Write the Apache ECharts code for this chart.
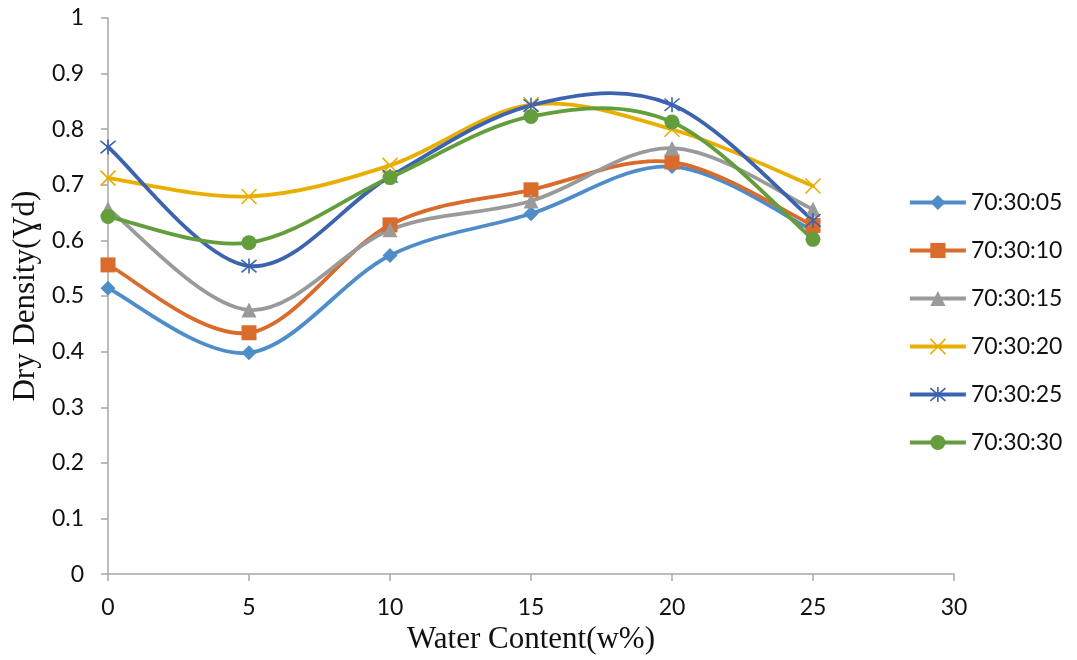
<!DOCTYPE html>
<html>
<head>
<meta charset="utf-8">
<script src="https://cdn.jsdelivr.net/npm/echarts@6/dist/echarts.min.js"></script>
<style>
  html, body { margin: 0; padding: 0; background: #fff; }
  #chart { width: 1077px; height: 660px; }
</style>
</head>
<body>
<div id="chart"></div>
<script>
// Water content (w%) at which dry density was measured
const waterContent = [0, 5, 10, 15, 20, 25];

// Mix ratios (legend names)
const mixNames = ['70:30:05', '70:30:10', '70:30:15', '70:30:20', '70:30:25', '70:30:30'];

// Dry density for each mix
const mix05 = [0.514, 0.398, 0.573, 0.648, 0.733, 0.618];
const mix10 = [0.556, 0.434, 0.628, 0.691, 0.741, 0.627];
const mix15 = [0.657, 0.475, 0.619, 0.671, 0.766, 0.656];
const mix20 = [0.712, 0.679, 0.735, 0.844, 0.800, 0.698];
const mix25 = [0.768, 0.554, 0.715, 0.843, 0.844, 0.636];
const mix30 = [0.643, 0.596, 0.713, 0.823, 0.813, 0.602];

const seriesValues = [mix05, mix10, mix15, mix20, mix25, mix30];

const colors = ['#4E8DC9', '#D96B2B', '#9A9A9A', '#E9AF00', '#3C63B0', '#639D3C'];
const symbols = [
  'diamond',
  'rect',
  'triangle',
  'path://M0,0L10,10M10,0L0,10',
  'path://M0,0L10,10M10,0L0,10M5,-1L5,11',
  'circle'
];
const symbolSizes = [15, 15, 15, 15, 15, 15];
const strokeOnly = [false, false, false, true, true, false];
const LINE_WIDTH = 3.8;

const chart = echarts.init(document.getElementById('chart'), null, { renderer: 'canvas' });

// Smooth curve through the points (cardinal spline as cubic Bezier segments),
// drawn in pixel space from the axis scales.
function smoothPath(api, values) {
  const pts = waterContent.map((w, j) => api.coord([w, values[j]]));
  const n = pts.length;
  const t = 1 / 6;
  let d = 'M' + pts[0][0] + ',' + pts[0][1];
  for (let i = 0; i < n - 1; i++) {
    const p0 = pts[Math.max(i - 1, 0)];
    const p1 = pts[i];
    const p2 = pts[i + 1];
    const p3 = pts[Math.min(i + 2, n - 1)];
    const c1 = [p1[0] + (p2[0] - p0[0]) * t, p1[1] + (p2[1] - p0[1]) * t];
    const c2 = [p2[0] - (p3[0] - p1[0]) * t, p2[1] - (p3[1] - p1[1]) * t];
    d += 'C' + c1[0] + ',' + c1[1] + ' ' + c2[0] + ',' + c2[1] + ' ' + p2[0] + ',' + p2[1];
  }
  return d;
}

// Curves (unnamed, so the legend takes its icons from the marker series)
const curveSeries = mixNames.map((name, i) => ({
  type: 'custom',
  silent: true,
  z: 2 + i,
  data: [[waterContent[0], seriesValues[i][0]]],
  renderItem: (params, api) => ({
    type: 'path',
    shape: { pathData: smoothPath(api, seriesValues[i]) },
    style: { fill: null, stroke: colors[i], lineWidth: LINE_WIDTH, lineJoin: 'round', lineCap: 'round' }
  })
}));

// Markers at the measured points
const markerSeries = mixNames.map((name, i) => ({
  name: name,
  type: 'line',
  data: waterContent.map((w, j) => [w, seriesValues[i][j]]),
  symbol: symbols[i],
  symbolSize: symbolSizes[i],
  showAllSymbol: true,
  lineStyle: { color: colors[i], width: LINE_WIDTH, opacity: 0 },
  itemStyle: strokeOnly[i]
    ? { color: 'rgba(0,0,0,0)', borderColor: colors[i], borderWidth: 1.6 }
    : { color: colors[i], borderColor: colors[i], borderWidth: 0 },
  emphasis: { disabled: true },
  z: 20 + i
}));

chart.setOption({
  animation: false,
  backgroundColor: '#ffffff',
  color: colors,
  grid: { left: 108, right: 123, top: 18, bottom: 84, containLabel: false },
  legend: {
    orient: 'vertical',
    left: 903,
    top: 186,
    itemWidth: 56,
    itemHeight: 19,
    itemGap: 25,
    textStyle: { fontFamily: 'Lato, "Open Sans", sans-serif', fontSize: 23, color: '#111' },
    data: mixNames.map((n, i) => ({
      name: n,
      lineStyle: { color: colors[i], width: LINE_WIDTH, opacity: 1 },
      itemStyle: strokeOnly[i]
        ? { color: 'rgba(0,0,0,0)', borderColor: colors[i], borderWidth: 1.6 }
        : { color: colors[i] }
    }))
  },
  xAxis: {
    type: 'value',
    min: 0,
    max: 30,
    interval: 5,
    name: 'Water Content(w%)',
    nameLocation: 'middle',
    nameGap: 48,
    nameTextStyle: { fontFamily: '"Liberation Serif", "Times New Roman", serif', fontSize: 31, color: '#111' },
    axisLine: { show: true, lineStyle: { color: '#A6A6A6', width: 1.5 } },
    axisTick: { show: true, length: 7, lineStyle: { color: '#A6A6A6', width: 1.5 } },
    axisLabel: { margin: 22, fontFamily: 'Lato, "Open Sans", sans-serif', fontSize: 23, color: '#111' },
    splitLine: { show: false }
  },
  yAxis: {
    type: 'value',
    min: 0,
    max: 1,
    interval: 0.1,
    name: 'Dry Density(Ɣd)',
    nameLocation: 'middle',
    nameGap: 66,
    nameTextStyle: { fontFamily: '"Liberation Serif", "Times New Roman", serif', fontSize: 31, color: '#111' },
    axisLine: { show: true, lineStyle: { color: '#A6A6A6', width: 1.5 } },
    axisTick: { show: true, length: 7, lineStyle: { color: '#A6A6A6', width: 1.5 } },
    axisLabel: {
      margin: 24,
      fontFamily: 'Lato, "Open Sans", sans-serif',
      fontSize: 23,
      color: '#111',
      formatter: v => String(Math.round(v * 10) / 10)
    },
    splitLine: { show: false }
  },
  series: curveSeries.concat(markerSeries)
});
</script>
</body>
</html>
